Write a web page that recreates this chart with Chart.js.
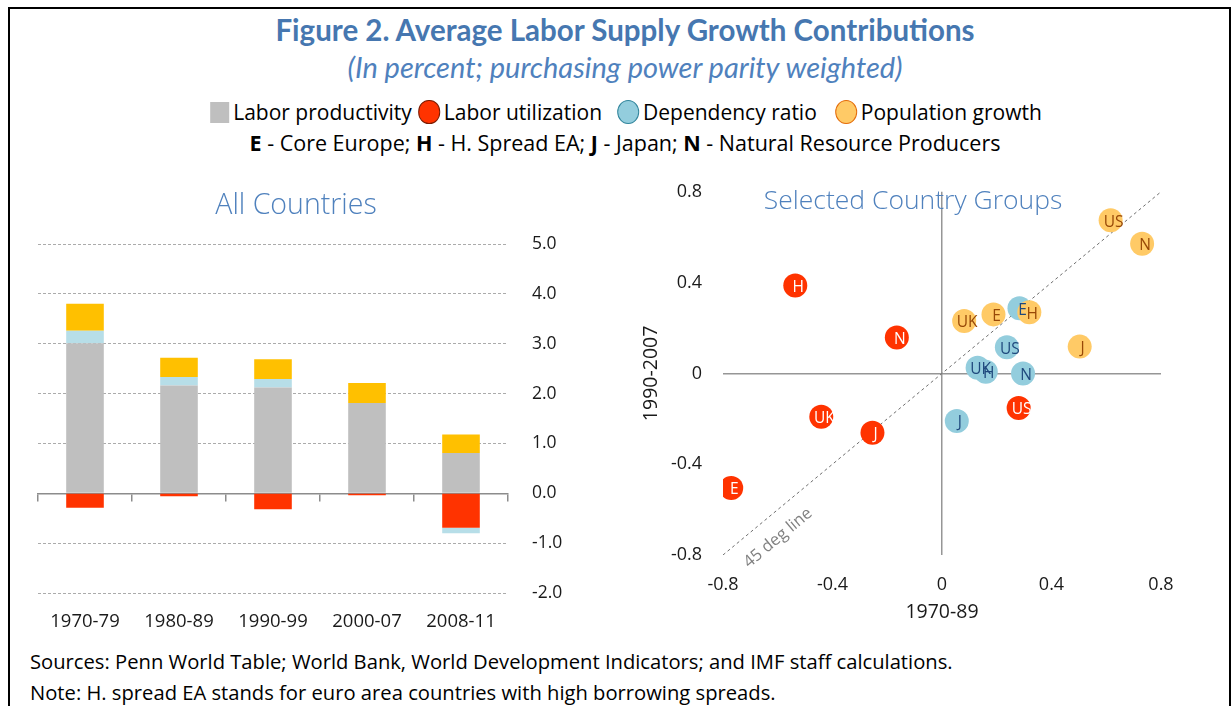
<!DOCTYPE html>
<html>
<head>
<meta charset="utf-8">
<script src="https://cdn.jsdelivr.net/npm/chart.js@4.4.1/dist/chart.umd.min.js"></script>
<style>
  body { margin: 0; background: #fff; width: 1231px; height: 706px; overflow: hidden; position: relative; font-family: "Open Sans", sans-serif; color: #000; }
  .frame { position: absolute; left: 8px; top: 7px; width: 1219px; height: 720px; border-left: 2px solid #000; border-top: 2px solid #000; border-right: 2px solid #000; }
  .t { position: absolute; white-space: nowrap; line-height: 1; }
  .c { transform: translateX(-50%); }
  #title { left: 625px; top: 12px; font: bold 29.5px Lato, sans-serif; color: #4677B0; }
  #subtitle { left: 625px; top: 49px; font: italic 29px Lato, sans-serif; color: #4F81BD; }
  #legend { left: 626px; top: 100px; font-size: 21px; display: flex; align-items: center; }
  #legend span.m { display: inline-block; width: 22px; height: 24px; margin-right: 4px; box-sizing: border-box; }
  #legend span.item { display: flex; align-items: center; }
  #key { left: 625px; top: 132px; font-size: 21.5px; }
  .sub { font-weight: 300; color: #4F81BD; }
  #allTitle { left: 296px; top: 189px; font-size: 28.5px; }
  #selTitle { left: 913px; top: 186px; font-size: 26.5px; }
  #src { left: 30px; top: 651px; font-size: 20.2px; }
  #note { left: 30px; top: 682px; font-size: 20.2px; }
  canvas { position: absolute; }
  #bars { left: 0; top: 200px; }
  #scatter { left: 620px; top: 160px; }
</style>
</head>
<body>
<div class="frame"></div>
<div class="t c" id="title">Figure 2. Average Labor Supply Growth Contributions</div>
<div class="t c" id="subtitle">(In percent; purchasing power parity weighted)</div>
<div class="t c" id="legend"></div>
<div class="t c" id="key"><b>E</b> - Core Europe; <b>H</b> - H. Spread EA; <b>J</b> - Japan; <b>N</b> - Natural Resource Producers</div>
<canvas id="bars" width="600" height="440"></canvas>
<canvas id="scatter" width="600" height="480"></canvas>
<div class="t c sub" id="allTitle">All Countries</div>
<div class="t c sub" id="selTitle">Selected Country Groups</div>
<div class="t" id="src">Sources: Penn World Table; World Bank, World Development Indicators; and IMF staff calculations.</div>
<div class="t" id="note">Note: H. spread EA stands for euro area countries with high borrowing spreads.</div>
<script>
// bar chart data (percent)
const periods = ['1970-79', '1980-89', '1990-99', '2000-07', '2008-11'];
const laborProductivity = [3.01, 2.16, 2.12, 1.81, 0.81];
const laborUtilization = [-0.29, -0.06, -0.32, -0.04, -0.69];
const dependencyRatio = [0.25, 0.17, 0.17, 0.0, -0.11];
const populationGrowth = [0.54, 0.39, 0.40, 0.40, 0.37];
const barTicks = [-2, -1, 0, 1, 2, 3, 4, 5];

// scatter data: x = 1970-89, y = 1990-2007
const groups = ['E', 'H', 'J', 'N', 'UK', 'US'];
const utilX = [-0.77, -0.536, -0.254, -0.165, -0.441, 0.28];
const utilY = [-0.505, 0.387, -0.261, 0.158, -0.191, -0.152];
const depX = [0.283, 0.16, 0.054, 0.296, 0.13, 0.237];
const depY = [0.287, 0.007, -0.21, 0.0, 0.025, 0.115];
const popX = [0.188, 0.319, 0.503, 0.731, 0.081, 0.616];
const popY = [0.26, 0.269, 0.118, 0.571, 0.231, 0.675];
const diagonal = [-0.8, 0.8];
const scatterTicks = [-0.8, -0.4, 0, 0.4, 0.8];

const seriesNames = ['Labor productivity', 'Labor utilization', 'Dependency ratio', 'Population growth'];
const barColors = ['#BFBFBF', '#FF3300', '#B7DEE8', '#FFC000'];
const dotColors = ['#FF3300', '#93CDDD', '#FFCA66'];

Chart.defaults.font.family = "'Open Sans', sans-serif";
Chart.defaults.color = '#1a1a1a';

// legend (shared by both panels)
const legendMarks = [
  'background:#BFBFBF;width:19px;height:21px;',
  'background:#FF3300;border:1.5px solid #7a1a00;border-radius:48%;',
  'background:#93CDDD;border:1.5px solid #31859C;border-radius:50%;',
  'background:#FFCA66;border:1.5px solid #E46C0A;border-radius:50%;'
];
const legendGaps = [6, 15, 18, 0];
const legendEl = document.getElementById('legend');
seriesNames.forEach((name, i) => {
  const item = document.createElement('span');
  item.className = 'item';
  item.style.marginRight = legendGaps[i] + 'px';
  item.innerHTML = `<span class="m" style="${legendMarks[i]}"></span>${name}`;
  legendEl.appendChild(item);
});

// ---- left panel: stacked bars ----
const zeroGrid = c => (c.tick && c.tick.value === 0) ? 'rgba(0,0,0,0)' : '#ABABAB';
new Chart(document.getElementById('bars'), {
  type: 'bar',
  data: {
    labels: periods,
    datasets: [
      { label: seriesNames[0], data: laborProductivity, backgroundColor: barColors[0] },
      { label: seriesNames[1], data: laborUtilization, backgroundColor: barColors[1] },
      { label: seriesNames[2], data: dependencyRatio, backgroundColor: barColors[2] },
      { label: seriesNames[3], data: populationGrowth, backgroundColor: barColors[3] }
    ]
  },
  options: {
    responsive: false,
    animation: false,
    categoryPercentage: 1,
    barPercentage: 0.4,
    layout: { padding: { left: 38, top: 44, right: 0, bottom: 0 } },
    plugins: { legend: { display: false }, tooltip: { enabled: false } },
    scales: {
      x: {
        stacked: true,
        grid: { display: false },
        border: { display: false },
        ticks: { padding: 10, color: '#1a1a1a', font: { size: 18.5 } },
        afterFit: s => { s.height = 47; }
      },
      x0: {
        type: 'category',
        position: { y: 0 },
        offset: true,
        grid: { offset: true, drawOnChartArea: false, color: '#8C8C8C', tickLength: 7, lineWidth: 1.5 },
        border: { color: '#8C8C8C', width: 1.5 },
        ticks: { display: false }
      },
      y: {
        stacked: true,
        position: 'right',
        min: -2, max: 5,
        afterBuildTicks: s => { s.ticks = barTicks.map(v => ({ value: v })); },
        grid: { color: zeroGrid, drawTicks: false, lineWidth: 1 },
        border: { display: false, dash: [3, 2] },
        ticks: { padding: 24, color: '#1a1a1a', font: { size: 17.5 }, callback: v => v.toFixed(1) },
        afterFit: s => { s.width = 92; }
      }
    }
  }
});

// ---- right panel: scatter ----
const isZero = v => Math.abs(v) < 1e-9;
const axisGrid = c => (c.tick && isZero(c.tick.value)) ? '#969696' : 'rgba(0,0,0,0)';
const toPoints = (xs, ys) => xs.map((x, i) => ({ x: x, y: ys[i] }));

const scatterLabels = {
  id: 'scatterLabels',
  afterDatasetsDraw(chart) {
    const ctx = chart.ctx;
    ctx.save();
    ctx.textAlign = 'center';
    ctx.textBaseline = 'middle';
    ctx.font = "15.5px 'Open Sans'";
    chart.data.datasets.forEach((ds, i) => {
      if (!ds.textColor) return;
      chart.getDatasetMeta(i).data.forEach((pt, j) => {
        ctx.fillStyle = ds.textColor;
        ctx.fillText(groups[j], pt.x + 3, pt.y + 2);
      });
    });
    // label along the diagonal
    const xs = chart.scales.x, ys = chart.scales.y;
    const ang = Math.atan2(ys.getPixelForValue(0.8) - ys.getPixelForValue(-0.8),
                           xs.getPixelForValue(0.8) - xs.getPixelForValue(-0.8));
    ctx.translate(xs.getPixelForValue(-0.65), ys.getPixelForValue(-0.65));
    ctx.rotate(ang);
    ctx.fillStyle = '#808080';
    ctx.font = "16.5px 'Open Sans'";
    ctx.fillText('45 deg line', 0, 22);
    ctx.restore();
  }
};

new Chart(document.getElementById('scatter'), {
  type: 'scatter',
  data: {
    datasets: [
      { type: 'line', label: '45 deg line', data: toPoints(diagonal, diagonal), borderColor: '#6E6E6E', borderWidth: 1, borderDash: [3, 3], pointRadius: 0, order: 4 },
      { label: seriesNames[1], data: toPoints(utilX, utilY), backgroundColor: dotColors[0], pointRadius: 12, borderWidth: 0, textColor: '#ffffff', order: 3 },
      { label: seriesNames[2], data: toPoints(depX, depY), backgroundColor: dotColors[1], pointRadius: 12, borderWidth: 0, textColor: '#1F497D', order: 2 },
      { label: seriesNames[3], data: toPoints(popX, popY), backgroundColor: dotColors[2], pointRadius: 12, borderWidth: 0, textColor: '#984807', order: 1 }
    ]
  },
  options: {
    responsive: false,
    animation: false,
    layout: { padding: { left: 0, top: 29, right: 59, bottom: 0 } },
    plugins: { legend: { display: false }, tooltip: { enabled: false } },
    scales: {
      x: {
        type: 'linear', min: -0.8, max: 0.8,
        afterBuildTicks: s => { s.ticks = scatterTicks.map(v => ({ value: v })); },
        grid: { color: axisGrid, lineWidth: 1.5, drawTicks: false },
        border: { display: false },
        ticks: { padding: 19, color: '#1a1a1a', font: { size: 18 }, callback: v => isZero(v) ? '0' : v.toFixed(1) },
        title: { display: true, text: '1970-89', color: '#1a1a1a', font: { size: 19.5 }, padding: { bottom: 16, top: 0 } },
        afterFit: s => { s.height = 85; }
      },
      y: {
        type: 'linear', min: -0.8, max: 0.8,
        afterBuildTicks: s => { s.ticks = scatterTicks.map(v => ({ value: v })); },
        grid: { color: axisGrid, lineWidth: 1.5, drawTicks: false },
        border: { display: false },
        ticks: { padding: 21, color: '#1a1a1a', font: { size: 18 }, callback: v => isZero(v) ? '0' : v.toFixed(1) },
        title: { display: true, text: '1990-2007', color: '#1a1a1a', font: { size: 19.5 }, padding: { top: 20, bottom: 0 } },
        afterFit: s => { s.width = 103; }
      }
    }
  },
  plugins: [scatterLabels]
});
</script>
</body>
</html>
